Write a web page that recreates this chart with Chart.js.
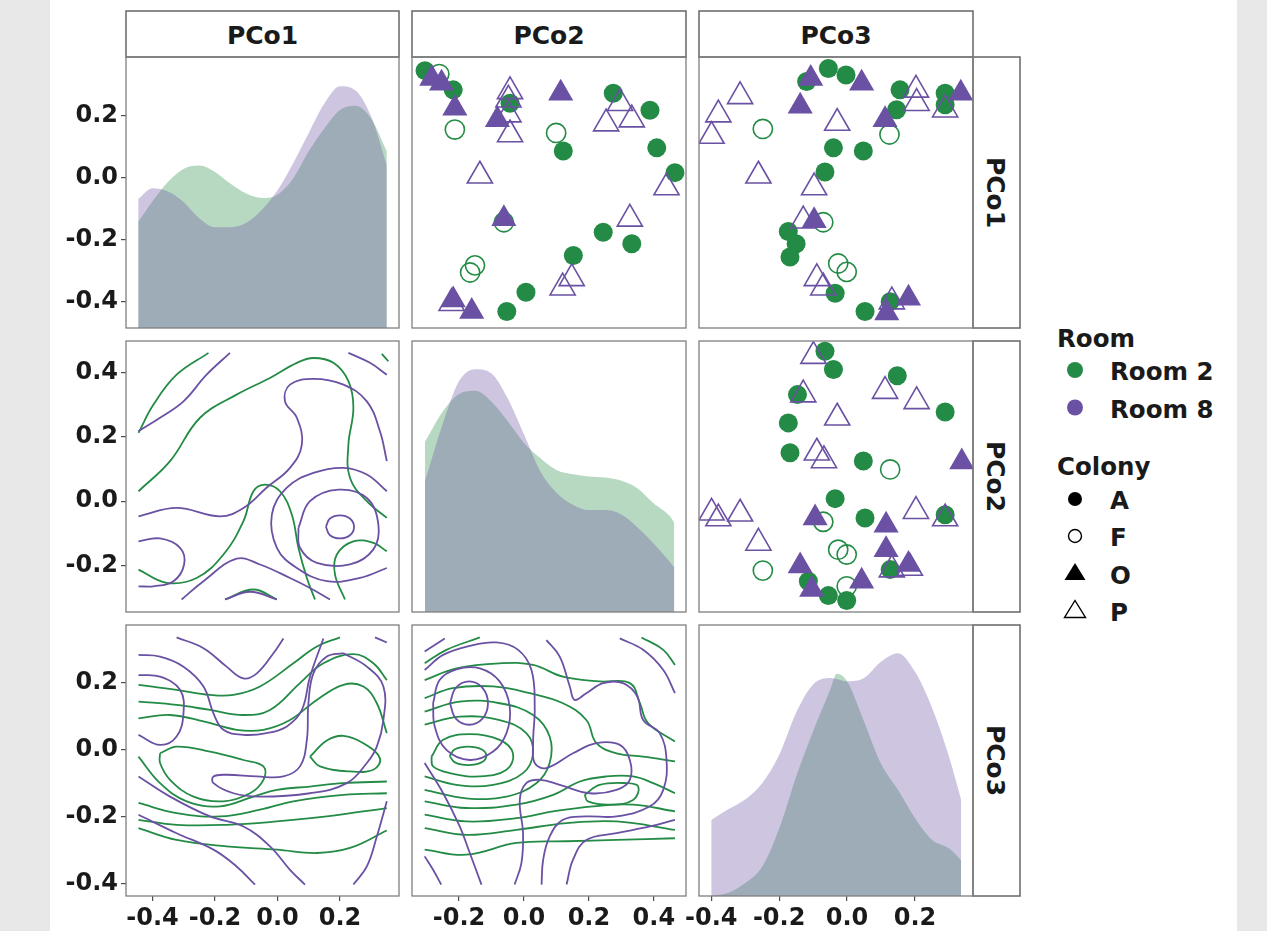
<!DOCTYPE html>
<html>
<head>
<meta charset="utf-8">
<script src="https://cdn.jsdelivr.net/npm/chart.js@4"></script>
<style>
  html, body { margin: 0; width: 1267px; height: 931px; overflow: hidden; background: #e8e8e8; }
  #band { position: absolute; left: 50px; top: 0; width: 1187px; height: 931px; background: #fff; }
  #fig { position: absolute; left: 0; top: 0; width: 1267px; height: 931px; }
  canvas, svg { position: absolute; }
</style>
</head>
<body>
<div id="band"></div>
<div id="fig">
<svg id="deco" width="1267" height="931" style="left:0;top:0"></svg>
</div>
<script>
const ROOM2 = '#238b45';
const ROOM8 = '#6a51a3';
const ROOM2_FILL = 'rgba(35, 139, 69, 0.33)';
const ROOM8_FILL = 'rgba(106, 81, 163, 0.33)';

const VARS = ['PCo1', 'PCo2', 'PCo3'];
const AXIS_LIMITS = [[-0.485, 0.389], [-0.345, 0.499], [-0.436, 0.371]];
const AXIS_TICKS = [[-0.4, -0.2, 0, 0.2], [-0.2, 0, 0.2, 0.4], [-0.4, -0.2, 0, 0.2]];
const ROOMS = ['Room 2', 'Room 8'];
const COLONIES = ['A', 'F', 'O', 'P'];

// Diagonal densities
const densPC1x = [-0.446, -0.40, -0.35, -0.30, -0.25, -0.20, -0.15, -0.10, -0.05, 0.00, 0.05, 0.10, 0.15, 0.20, 0.25, 0.30, 0.350];
const densPC1room2 = [0.98, 1.17, 1.35, 1.47, 1.50, 1.44, 1.33, 1.24, 1.20, 1.23, 1.38, 1.63, 1.84, 2.01, 2.05, 1.93, 1.63];
const densPC1room8 = [1.19, 1.29, 1.26, 1.16, 1.01, 0.93, 0.93, 0.97, 1.09, 1.27, 1.52, 1.80, 2.07, 2.23, 2.19, 1.95, 1.50];

const densPC2x = [-0.305, -0.25, -0.20, -0.15, -0.10, -0.05, 0.00, 0.05, 0.10, 0.15, 0.20, 0.25, 0.30, 0.35, 0.40, 0.45, 0.463];
const densPC2room2 = [1.57, 1.85, 2.01, 2.04, 1.94, 1.76, 1.56, 1.42, 1.31, 1.27, 1.25, 1.24, 1.21, 1.14, 1.00, 0.88, 0.82];
const densPC2room8 = [1.21, 1.74, 2.13, 2.24, 2.20, 1.97, 1.64, 1.30, 1.10, 0.99, 0.94, 0.94, 0.90, 0.78, 0.63, 0.46, 0.41];

const densPC3x = [-0.40, -0.35, -0.30, -0.25, -0.20, -0.15, -0.10, -0.05, -0.03, 0.00, 0.05, 0.10, 0.15, 0.20, 0.25, 0.30, 0.336];
const densPC3room2 = [0.00, 0.03, 0.12, 0.27, 0.62, 1.10, 1.52, 1.90, 2.05, 1.98, 1.61, 1.22, 0.98, 0.72, 0.52, 0.44, 0.33];
const densPC3room8 = [0.70, 0.80, 0.89, 1.04, 1.30, 1.69, 1.95, 2.01, 2.00, 1.98, 2.01, 2.16, 2.24, 2.07, 1.74, 1.29, 0.89];
const DENS_MAX = 2.5;

// Upper panels: PCo2 vs PCo1 (x, y)
const p12_A = [[-0.305, 0.345], [-0.218, 0.283], [-0.043, 0.240], [0.121, 0.086], [0.275, 0.272], [0.388, 0.217], [0.409, 0.096], [0.465, 0.016], [0.244, -0.176], [0.332, -0.213], [0.152, -0.251], [0.006, -0.370], [-0.053, -0.432]];
const p12_F = [[-0.261, 0.334], [-0.213, 0.155], [0.099, 0.144], [-0.062, -0.144], [-0.151, -0.283], [-0.166, -0.306]];
const p12_O = [[-0.284, 0.320], [-0.254, 0.304], [-0.213, 0.224], [-0.082, 0.187], [0.113, 0.272], [-0.062, -0.133], [-0.218, -0.395], [-0.161, -0.432]];
const p12_P = [[-0.043, 0.278], [-0.048, 0.251], [-0.048, 0.203], [-0.043, 0.139], [-0.136, 0.006], [0.296, 0.240], [0.253, 0.174], [0.332, 0.187], [0.439, -0.032], [0.326, -0.133], [0.147, -0.325], [0.119, -0.355], [-0.223, -0.405]];

// PCo3 vs PCo1
const p13_A = [[-0.119, 0.310], [-0.055, 0.352], [-0.003, 0.331], [0.156, 0.283], [0.146, 0.219], [0.289, 0.272], [0.289, 0.235], [-0.040, 0.096], [0.048, 0.086], [-0.065, 0.018], [-0.173, -0.174], [-0.150, -0.213], [-0.168, -0.256], [-0.035, -0.373], [0.053, -0.432], [0.127, -0.400]];
const p13_F = [[-0.248, 0.157], [0.125, 0.139], [-0.070, -0.144], [-0.026, -0.277], [-0.001, -0.304]];
const p13_O = [[-0.107, 0.320], [0.043, 0.304], [-0.138, 0.230], [0.112, 0.187], [-0.097, -0.139], [0.335, 0.272], [0.117, -0.437], [0.181, -0.389]];
const p13_P = [[-0.315, 0.262], [-0.379, 0.203], [-0.399, 0.134], [-0.029, 0.176], [-0.261, 0.006], [-0.097, -0.032], [-0.129, -0.139], [0.203, 0.283], [0.205, 0.240], [0.289, 0.219], [-0.089, -0.325], [-0.070, -0.355], [0.132, -0.400]];

// PCo3 vs PCo2
const p23_A = [[-0.065, 0.467], [-0.040, 0.410], [0.148, 0.391], [0.289, 0.278], [-0.146, 0.332], [-0.173, 0.244], [-0.168, 0.151], [0.048, 0.125], [-0.035, 0.008], [0.053, -0.052], [0.289, -0.042], [0.127, -0.213], [-0.114, -0.249], [-0.055, -0.294], [-0.001, -0.309]];
const p23_F = [[0.127, 0.099], [-0.070, -0.064], [-0.026, -0.151], [-0.001, -0.166], [-0.248, -0.216], [-0.001, -0.265]];
const p23_O = [[0.338, 0.122], [-0.094, -0.052], [0.115, -0.075], [0.115, -0.151], [-0.138, -0.202], [0.181, -0.197], [0.043, -0.249], [-0.104, -0.275]];
const p23_P = [[-0.099, 0.452], [-0.129, 0.332], [-0.029, 0.260], [-0.089, 0.151], [-0.068, 0.127], [0.112, 0.343], [0.205, 0.311], [-0.399, -0.036], [-0.379, -0.054], [-0.315, -0.039], [-0.261, -0.130], [0.203, -0.031], [0.289, -0.054], [0.132, -0.213], [0.185, -0.208]];

// Lower panels: 2d density contour lines, x = column variable, y = row variable
const c21_room2 = [
  [[-0.445, 0.213], [-0.397, 0.301], [-0.323, 0.394], [-0.221, 0.462]],
  [[-0.445, 0.031], [-0.344, 0.125], [-0.248, 0.260], [-0.131, 0.332], [-0.024, 0.384], [0.062, 0.431], [0.115, 0.446], [0.179, 0.431], [0.227, 0.374], [0.243, 0.291], [0.227, 0.176], [0.232, 0.073], [0.286, 0.000], [0.350, -0.052]],
  [[-0.445, -0.213], [-0.355, -0.254], [-0.259, -0.239], [-0.173, -0.166], [-0.109, -0.062], [-0.077, 0.031], [-0.040, 0.052], [0.008, 0.031], [0.046, -0.042], [0.067, -0.145], [0.094, -0.239], [0.120, -0.306]],
  [[0.216, -0.306], [0.184, -0.228], [0.190, -0.166], [0.243, -0.125], [0.307, -0.130], [0.350, -0.156]],
  [[-0.168, -0.306], [-0.077, -0.275], [-0.002, -0.306]],
  [[0.334, 0.459], [0.355, 0.436]]
];
const c21_room8 = [
  [[-0.445, 0.218], [-0.376, 0.260], [-0.301, 0.311], [-0.227, 0.394], [-0.152, 0.462]],
  [[0.227, 0.462], [0.296, 0.431], [0.350, 0.394]],
  [[-0.445, -0.047], [-0.323, -0.021], [-0.184, -0.047], [-0.109, -0.021], [-0.035, 0.042], [0.040, 0.104], [0.078, 0.176], [0.062, 0.260], [0.024, 0.311], [0.040, 0.363], [0.115, 0.381], [0.211, 0.363], [0.286, 0.311], [0.328, 0.218], [0.350, 0.125]],
  [[0.350, 0.031], [0.286, 0.083], [0.211, 0.104], [0.115, 0.088], [0.030, 0.042], [-0.018, -0.042], [-0.002, -0.145], [0.062, -0.208], [0.158, -0.249], [0.264, -0.239], [0.350, -0.208]],
  [[0.067, -0.083], [0.104, 0.000], [0.195, 0.036], [0.286, 0.010], [0.323, -0.073], [0.307, -0.150], [0.232, -0.197], [0.126, -0.192], [0.072, -0.145], [0.067, -0.083]],
  [[0.155, -0.080], [0.168, -0.054], [0.200, -0.044], [0.232, -0.054], [0.245, -0.080], [0.232, -0.106], [0.200, -0.116], [0.168, -0.106], [0.155, -0.080]],
  [[-0.445, -0.125], [-0.376, -0.116], [-0.312, -0.145], [-0.299, -0.197], [-0.333, -0.249], [-0.397, -0.265], [-0.445, -0.265]],
  [[-0.307, -0.306], [-0.237, -0.249], [-0.131, -0.179], [-0.056, -0.197], [0.040, -0.239], [0.104, -0.270], [0.168, -0.306]],
  [[-0.168, -0.306], [-0.088, -0.282], [-0.002, -0.306]]
];

const c31_room2 = [
  [[-0.445, 0.193], [-0.323, 0.178], [-0.216, 0.163], [-0.141, 0.163], [-0.056, 0.188], [0.051, 0.257], [0.126, 0.307], [0.200, 0.334]],
  [[-0.445, 0.143], [-0.323, 0.133], [-0.216, 0.118], [-0.109, 0.103], [-0.024, 0.118], [0.072, 0.198], [0.147, 0.257], [0.243, 0.284], [0.307, 0.257], [0.350, 0.207]],
  [[-0.445, 0.093], [-0.344, 0.103], [-0.237, 0.084], [-0.131, 0.059], [-0.045, 0.059], [0.040, 0.088], [0.126, 0.148], [0.211, 0.193], [0.275, 0.188], [0.318, 0.138], [0.350, 0.049]],
  [[0.104, -0.021], [0.158, 0.027], [0.211, 0.041], [0.275, 0.019], [0.328, -0.026], [0.307, -0.060], [0.232, -0.065], [0.136, -0.050], [0.104, -0.021]],
  [[-0.376, -0.011], [-0.323, 0.009], [-0.216, -0.006], [-0.109, -0.031], [-0.045, -0.050], [-0.045, -0.090], [-0.088, -0.130], [-0.173, -0.154], [-0.269, -0.140], [-0.344, -0.090], [-0.376, -0.040], [-0.376, -0.011]],
  [[-0.445, -0.021], [-0.376, -0.100], [-0.291, -0.154], [-0.184, -0.169], [-0.077, -0.140], [-0.002, -0.120], [0.104, -0.110], [0.211, -0.100], [0.350, -0.095]],
  [[-0.445, -0.159], [-0.323, -0.189], [-0.184, -0.199], [-0.056, -0.179], [0.051, -0.154], [0.211, -0.135], [0.350, -0.130]],
  [[-0.445, -0.209], [-0.323, -0.224], [-0.163, -0.224], [-0.002, -0.214], [0.158, -0.199], [0.350, -0.174]],
  [[-0.445, -0.234], [-0.323, -0.269], [-0.163, -0.288], [-0.002, -0.298], [0.126, -0.308], [0.232, -0.293], [0.350, -0.241]]
];
const c31_room8 = [
  [[-0.323, 0.334], [-0.237, 0.302], [-0.163, 0.247], [-0.109, 0.212], [-0.066, 0.227], [-0.013, 0.287], [0.019, 0.331]],
  [[-0.445, 0.282], [-0.376, 0.277], [-0.301, 0.247], [-0.237, 0.188], [-0.205, 0.108], [-0.173, 0.059], [-0.109, 0.044], [-0.035, 0.049], [0.030, 0.069], [0.078, 0.118], [0.104, 0.217], [0.147, 0.331]],
  [[-0.445, 0.222], [-0.376, 0.217], [-0.312, 0.178], [-0.301, 0.108], [-0.323, 0.039], [-0.376, 0.014], [-0.445, 0.044]],
  [[0.211, 0.287], [0.286, 0.247], [0.339, 0.188], [0.339, 0.088], [0.318, 0.009], [0.286, -0.040], [0.222, -0.100], [0.104, -0.130], [-0.056, -0.140], [-0.141, -0.130], [-0.205, -0.100], [-0.205, -0.080], [-0.163, -0.075], [-0.066, -0.080], [0.019, -0.080], [0.072, -0.050], [0.094, 0.029], [0.099, 0.138], [0.115, 0.227], [0.158, 0.277], [0.211, 0.287]],
  [[-0.445, -0.080], [-0.344, -0.140], [-0.216, -0.199], [-0.109, -0.229], [-0.024, -0.288], [0.040, -0.358], [0.088, -0.402]],
  [[-0.445, -0.194], [-0.323, -0.249], [-0.205, -0.298], [-0.131, -0.348], [-0.072, -0.402]],
  [[0.243, -0.402], [0.286, -0.348], [0.318, -0.259], [0.350, -0.154]],
  [[0.312, 0.334], [0.350, 0.319]]
];

const c32_room2 = [
  [[-0.306, 0.257], [-0.239, 0.297], [-0.136, 0.334]],
  [[0.362, 0.334], [0.429, 0.297], [0.465, 0.252]],
  [[-0.306, 0.207], [-0.208, 0.242], [-0.075, 0.257], [0.028, 0.252], [0.120, 0.217], [0.233, 0.203], [0.326, 0.198], [0.357, 0.138], [0.382, 0.079], [0.465, 0.024]],
  [[-0.306, 0.153], [-0.219, 0.183], [-0.095, 0.188], [0.018, 0.168], [0.120, 0.138], [0.192, 0.088], [0.223, 0.019], [0.285, -0.011], [0.367, -0.021], [0.465, -0.035]],
  [[-0.306, 0.113], [-0.198, 0.143], [-0.075, 0.138], [0.028, 0.103], [0.079, 0.039], [0.079, -0.040], [0.038, -0.100], [-0.054, -0.140], [-0.178, -0.145], [-0.306, -0.120]],
  [[-0.306, 0.074], [-0.198, 0.098], [-0.075, 0.088], [0.007, 0.049], [0.028, -0.011], [-0.003, -0.070], [-0.095, -0.105], [-0.208, -0.105], [-0.306, -0.080]],
  [[-0.285, -0.021], [-0.249, 0.029], [-0.167, 0.046], [-0.075, 0.029], [-0.034, -0.011], [-0.054, -0.060], [-0.136, -0.080], [-0.229, -0.070], [-0.280, -0.050], [-0.285, -0.021]],
  [[-0.229, -0.019], [-0.213, 0.001], [-0.172, 0.009], [-0.131, 0.001], [-0.116, -0.019], [-0.131, -0.038], [-0.172, -0.046], [-0.213, -0.038], [-0.229, -0.019]],
  [[-0.306, -0.154], [-0.178, -0.174], [-0.023, -0.164], [0.090, -0.135], [0.172, -0.095], [0.254, -0.080], [0.336, -0.080], [0.398, -0.100], [0.465, -0.130]],
  [[-0.306, -0.194], [-0.178, -0.214], [-0.023, -0.204], [0.090, -0.184], [0.213, -0.169], [0.336, -0.164], [0.465, -0.184]],
  [[-0.306, -0.234], [-0.178, -0.254], [-0.023, -0.239], [0.131, -0.219], [0.285, -0.214], [0.465, -0.239]],
  [[-0.306, -0.298], [-0.178, -0.313], [-0.023, -0.278], [0.131, -0.273], [0.285, -0.269], [0.465, -0.264]],
  [[0.187, -0.135], [0.233, -0.105], [0.316, -0.100], [0.352, -0.110], [0.336, -0.150], [0.264, -0.164], [0.197, -0.154], [0.187, -0.135]]
];
const c32_room8 = [
  [[-0.306, 0.292], [-0.244, 0.331]],
  [[-0.306, 0.237], [-0.249, 0.282], [-0.167, 0.309], [-0.085, 0.319], [-0.018, 0.297], [0.023, 0.237], [0.033, 0.128], [0.028, 0.019], [0.033, -0.040], [0.069, -0.055], [0.151, -0.011], [0.223, 0.019], [0.295, 0.014], [0.326, -0.031], [0.326, -0.090], [0.285, -0.120], [0.203, -0.130], [0.110, -0.105], [0.049, -0.090], [0.007, -0.100], [-0.013, -0.150], [-0.003, -0.249], [-0.008, -0.338], [-0.029, -0.402]],
  [[-0.280, 0.138], [-0.260, 0.207], [-0.208, 0.239], [-0.136, 0.242], [-0.075, 0.203], [-0.044, 0.128], [-0.054, 0.049], [-0.095, -0.006], [-0.167, -0.031], [-0.239, -0.001], [-0.275, 0.069], [-0.280, 0.138]],
  [[-0.228, 0.138], [-0.210, 0.184], [-0.169, 0.203], [-0.128, 0.184], [-0.111, 0.138], [-0.128, 0.092], [-0.169, 0.074], [-0.210, 0.092], [-0.228, 0.138]],
  [[0.069, 0.326], [0.110, 0.277], [0.141, 0.188], [0.156, 0.148], [0.192, 0.168], [0.244, 0.198], [0.305, 0.198], [0.349, 0.158], [0.367, 0.088], [0.418, 0.049], [0.439, -0.031], [0.429, -0.120], [0.388, -0.169], [0.285, -0.199], [0.192, -0.199], [0.120, -0.209], [0.079, -0.259], [0.059, -0.328], [0.054, -0.402]],
  [[0.295, 0.331], [0.367, 0.297], [0.429, 0.237], [0.465, 0.168]],
  [[-0.306, -0.040], [-0.249, -0.130], [-0.198, -0.229], [-0.167, -0.308], [-0.131, -0.402]],
  [[-0.306, -0.318], [-0.280, -0.358], [-0.255, -0.402]],
  [[0.131, -0.402], [0.151, -0.328], [0.192, -0.269], [0.285, -0.249], [0.388, -0.229], [0.465, -0.209]]
];

// panel geometry
const COL_LEFT = [126, 412, 699];
const COL_W = [273, 274, 274];
const ROW_TOP = [57, 341, 625];
const ROW_H = 271;
const FONT = 'DejaVu Sans';

const panelBorder = {
  id: 'panelBorder',
  afterDraw(chart) {
    const { ctx, chartArea: a } = chart;
    ctx.save();
    ctx.strokeStyle = '#7f7f7f';
    ctx.lineWidth = 1.3;
    ctx.strokeRect(a.left, a.top, a.right - a.left, a.bottom - a.top);
    ctx.restore();
  }
};

function axis(i, show, pos) {
  const s = {
    type: 'linear',
    position: pos,
    display: show,
    min: AXIS_LIMITS[i][0],
    max: AXIS_LIMITS[i][1],
    afterBuildTicks: sc => { sc.ticks = AXIS_TICKS[i].map(v => ({ value: v })); },
    grid: { drawOnChartArea: false, drawTicks: true, tickLength: 5, color: '#4d4d4d', lineWidth: 1.2 },
    border: { display: false },
    ticks: {
      callback: v => v.toFixed(1),
      color: '#1a1a1a',
      padding: 3,
      autoSkip: false,
      maxRotation: 0,
      font: { family: FONT, weight: 'bold', size: 24 }
    }
  };
  if (show) {
    s.afterFit = sc => {
      if (pos === 'left') sc.width = 76; else sc.height = 35;
      sc.paddingLeft = sc.paddingRight = sc.paddingTop = sc.paddingBottom = 0;
    };
  }
  return s;
}

function pts(arr) { return arr.map(([x, y]) => ({ x, y })); }

function pointSet(arr, color, style, filled) {
  const circle = style === 'circle';
  return {
    data: pts(arr),
    pointStyle: style,
    pointRadius: circle ? (filled ? 9.5 : 9.6) : 14.5,
    backgroundColor: filled ? color : 'rgba(0,0,0,0)',
    borderColor: color,
    borderWidth: filled ? 0 : 1.6,
    showLine: false,
    clip: 0
  };
}

function contourSets(lines, color) {
  return lines.map(l => ({
    data: pts(l),
    showLine: true,
    borderColor: color,
    borderWidth: 1.8,
    pointRadius: 0,
    tension: 0.4,
    fill: false,
    clip: 0
  }));
}

function densitySet(xs, ys, fillColor) {
  return {
    data: xs.map((x, k) => ({ x, y: ys[k] })),
    showLine: true,
    fill: 'origin',
    backgroundColor: fillColor,
    borderColor: 'rgba(0,0,0,0)',
    borderWidth: 0,
    pointRadius: 0,
    tension: 0.4,
    cubicInterpolationMode: 'monotone',
    yAxisID: 'yd',
    clip: 0
  };
}

function panel(r, c, datasets, diagonal) {
  const padL = c === 0 ? 76 : 30, padR = 30, padT = 10, padB = r === 2 ? 35 : 10;
  const cv = document.createElement('canvas');
  const w = COL_W[c] + padL + padR, h = ROW_H + padT + padB;
  cv.width = w; cv.height = h;
  cv.style.width = w + 'px'; cv.style.height = h + 'px';
  cv.style.left = (COL_LEFT[c] - padL) + 'px';
  cv.style.top = (ROW_TOP[r] - padT) + 'px';
  document.getElementById('fig').appendChild(cv);

  const scales = { x: axis(c, r === 2, 'bottom'), y: axis(r, c === 0, 'left') };
  if (diagonal) scales.yd = { type: 'linear', display: false, min: 0, max: DENS_MAX };

  new Chart(cv.getContext('2d'), {
    type: 'scatter',
    data: { datasets },
    options: {
      responsive: false,
      animation: false,
      events: [],
      layout: {
        autoPadding: false,
        padding: { left: c === 0 ? 0 : padL, right: padR, top: padT, bottom: r === 2 ? 0 : padB }
      },
      scales,
      plugins: { legend: { display: false }, tooltip: { enabled: false } }
    },
    plugins: [panelBorder]
  });
}

function scatterPanel(r, c, A, F, O, P) {
  panel(r, c, [
    pointSet(O, ROOM8, 'triangle', true),
    pointSet(P, ROOM8, 'triangle', false),
    pointSet(A, ROOM2, 'circle', true),
    pointSet(F, ROOM2, 'circle', false)
  ]);
}

// Diagonal
panel(0, 0, [densitySet(densPC1x, densPC1room8, ROOM8_FILL), densitySet(densPC1x, densPC1room2, ROOM2_FILL)], true);
panel(1, 1, [densitySet(densPC2x, densPC2room8, ROOM8_FILL), densitySet(densPC2x, densPC2room2, ROOM2_FILL)], true);
panel(2, 2, [densitySet(densPC3x, densPC3room8, ROOM8_FILL), densitySet(densPC3x, densPC3room2, ROOM2_FILL)], true);

// Upper
scatterPanel(0, 1, p12_A, p12_F, p12_O, p12_P);
scatterPanel(0, 2, p13_A, p13_F, p13_O, p13_P);
scatterPanel(1, 2, p23_A, p23_F, p23_O, p23_P);

// Lower
panel(1, 0, [...contourSets(c21_room8, ROOM8), ...contourSets(c21_room2, ROOM2)]);
panel(2, 0, [...contourSets(c31_room8, ROOM8), ...contourSets(c31_room2, ROOM2)]);
panel(2, 1, [...contourSets(c32_room8, ROOM8), ...contourSets(c32_room2, ROOM2)]);

// Strips and legend
const svg = document.getElementById('deco');
const NS = 'http://www.w3.org/2000/svg';
function el(tag, attrs, text) {
  const e = document.createElementNS(NS, tag);
  for (const k in attrs) e.setAttribute(k, attrs[k]);
  if (text !== undefined) e.textContent = text;
  svg.appendChild(e);
  return e;
}
const stripStyle = { fill: '#fff', stroke: '#666', 'stroke-width': 1.5 };
const txt = (size) => ({ 'font-family': FONT, 'font-weight': 'bold', 'font-size': size, fill: '#1a1a1a' });

VARS.forEach((v, i) => {
  el('rect', { x: COL_LEFT[i], y: 11, width: COL_W[i], height: 46, ...stripStyle });
  el('text', { x: COL_LEFT[i] + COL_W[i] / 2, y: 43.5, 'text-anchor': 'middle', ...txt(25) }, v);
  el('rect', { x: 973, y: ROW_TOP[i], width: 47, height: ROW_H, ...stripStyle });
  el('text', { x: 0, y: 0, 'text-anchor': 'middle', 'dominant-baseline': 'central',
    transform: `translate(995.5 ${ROW_TOP[i] + ROW_H / 2}) rotate(90)`, ...txt(25) }, v);
});

el('text', { x: 1057, y: 347, ...txt(24.5) }, 'Room');
[ROOM2, ROOM8].forEach((col, k) => {
  el('circle', { cx: 1075, cy: 370 + k * 37.5, r: 8, fill: col });
  el('text', { x: 1110, y: 380 + k * 37.5, ...txt(24.5) }, ROOMS[k]);
});
el('text', { x: 1057, y: 475, ...txt(24.5) }, 'Colony');
const cy = [499, 536, 574, 611.5];
el('circle', { cx: 1075, cy: cy[0], r: 7, fill: '#000' });
el('circle', { cx: 1075, cy: cy[1], r: 6.5, fill: 'none', stroke: '#000', 'stroke-width': 1.4 });
el('polygon', { points: `1064.5,${cy[2] + 6} 1085.5,${cy[2] + 6} 1075,${cy[2] - 11}`, fill: '#000' });
el('polygon', { points: `1064.5,${cy[3] + 6} 1085.5,${cy[3] + 6} 1075,${cy[3] - 11}`, fill: 'none', stroke: '#000', 'stroke-width': 1.4 });
COLONIES.forEach((c, k) => el('text', { x: 1110, y: cy[k] + 9.5, ...txt(24.5) }, c));
</script>
</body>
</html>
